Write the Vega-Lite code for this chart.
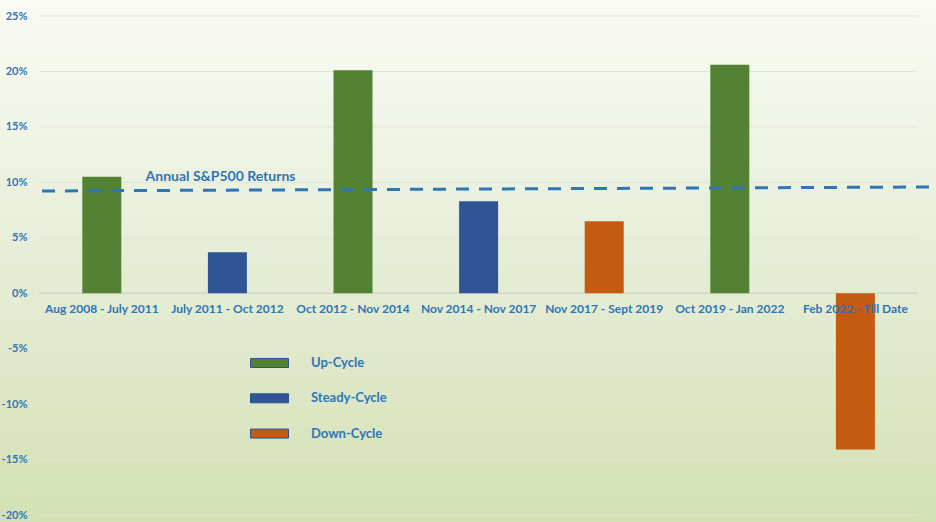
{
  "$schema": "https://vega.github.io/schema/vega-lite/v6.json",
  "width": 936,
  "height": 522,
  "autosize": "none",
  "padding": 0,
  "background": "#e8eed8",
  "config": {
    "view": {
      "stroke": null,
      "fill": {"gradient": "linear", "x1": 0, "y1": 0, "x2": 0, "y2": 1,
        "stops": [{"offset": 0, "color": "#f9fbf4"}, {"offset": 0.5, "color": "#e6edd6"}, {"offset": 1, "color": "#d4e1b5"}]}
    },
    "font": "Lato"
  },
  "datasets": {
    "bars": [
      {"period": "Aug 2008 - July 2011", "v": 10.5, "cycle": "Up-Cycle"},
      {"period": "July 2011 - Oct 2012", "v": 3.7, "cycle": "Steady-Cycle"},
      {"period": "Oct 2012 - Nov 2014", "v": 20.1, "cycle": "Up-Cycle"},
      {"period": "Nov 2014 - Nov 2017", "v": 8.3, "cycle": "Steady-Cycle"},
      {"period": "Nov 2017 - Sept 2019", "v": 6.5, "cycle": "Down-Cycle"},
      {"period": "Oct 2019 - Jan 2022", "v": 20.6, "cycle": "Up-Cycle"},
      {"period": "Feb 2022 - Till Date", "v": -14.1, "cycle": "Down-Cycle"}
    ],
    "grid": [
      {"v": -20, "u0": 0, "u1": 1}, {"v": -15, "u0": 0, "u1": 1}, {"v": -10, "u0": 0, "u1": 1},
      {"v": -5, "u0": 0, "u1": 1}, {"v": 0, "u0": 0, "u1": 1}, {"v": 5, "u0": 0, "u1": 1},
      {"v": 10, "u0": 0, "u1": 1}, {"v": 15, "u0": 0, "u1": 1}, {"v": 20, "u0": 0, "u1": 1},
      {"v": 25, "u0": 0, "u1": 1}
    ],
    "sp": [{"u0": 0.0034, "u1": 1.0137, "v": 9.22, "v2": 9.58}],
    "splabel": [{"u": 0.2065, "v": 10.5, "label": "Annual S&P500 Returns"}]
  },
  "resolve": {"scale": {"x": "independent"}},
  "layer": [
    {
      "data": {"name": "grid"},
      "mark": {"type": "rule"},
      "encoding": {
        "x": {"field": "u0", "type": "quantitative", "scale": {"domain": [-0.04437, 1.02048], "nice": false, "zero": false}, "axis": null},
        "x2": {"field": "u1"},
        "y": {"field": "v", "type": "quantitative", "title": null,
          "scale": {"domain": [-20.631, 26.443], "nice": false, "zero": false},
          "axis": {"values": [-20, -15, -10, -5, 0, 5, 10, 15, 20, 25], "labelExpr": "datum.value + '%'",
            "grid": false, "domain": false, "ticks": false, "tickSize": 0, "labelPadding": 0, "offset": -27, "title": null,
            "labelFont": "Lato", "labelFontSize": 11, "labelFontWeight": "bold", "labelColor": "#2e75b6"}},
        "stroke": {"condition": {"test": "datum.v === 0", "value": "#d3d6cc"}, "value": "#e1e5d8"},
        "strokeWidth": {"condition": {"test": "datum.v === 0", "value": 1.5}, "value": 1}
      }
    },
    {
      "data": {"name": "bars"},
      "mark": {"type": "bar"},
      "encoding": {
        "x": {"field": "period", "type": "nominal", "sort": null,
          "scale": {"type": "band", "paddingInner": 0.6895, "paddingOuter": 0.5709, "align": 0.574},
          "axis": null},
        "y": {"field": "v", "type": "quantitative", "title": null},
        "color": {"field": "cycle", "type": "nominal",
          "scale": {"domain": ["Up-Cycle", "Steady-Cycle", "Down-Cycle"], "range": ["#548235", "#2f5597", "#c55a11"]},
          "legend": {"orient": "none", "legendX": 250, "legendY": 353, "direction": "vertical", "title": null, "padding": 0,
            "symbolType": "M-1,-0.237L1,-0.237L1,0.237L-1,0.237Z", "symbolSize": 1444,
            "symbolStrokeColor": "#2f528f", "symbolStrokeWidth": 1, "symbolOpacity": 1,
            "clipHeight": 20, "rowPadding": 15.3, "labelOffset": 22,
            "labelFont": "Lato", "labelFontSize": 13, "labelFontWeight": "bold", "labelColor": "#2e75b6"}}
      }
    },
    {
      "data": {"name": "bars"},
      "mark": {"type": "text", "font": "Lato", "fontSize": 12, "fontWeight": "bold", "color": "#2e75b6", "align": "center", "baseline": "middle", "dy": 16},
      "encoding": {
        "x": {"field": "period", "type": "nominal", "sort": null,
          "scale": {"type": "band", "paddingInner": 0.6895, "paddingOuter": 0.5709, "align": 0.574},
          "axis": null, "bandPosition": 0.5},
        "y": {"datum": 0, "type": "quantitative"},
        "text": {"field": "period"}
      }
    },
    {
      "data": {"name": "sp"},
      "mark": {"type": "rule", "stroke": "#2e75b6", "strokeWidth": 3, "strokeDash": [13, 10]},
      "encoding": {
        "x": {"field": "u0", "type": "quantitative", "scale": {"domain": [-0.04437, 1.02048], "nice": false, "zero": false}, "axis": null},
        "x2": {"field": "u1"},
        "y": {"field": "v", "type": "quantitative", "title": null},
        "y2": {"field": "v2"}
      }
    },
    {
      "data": {"name": "splabel"},
      "mark": {"type": "text", "font": "Lato", "fontSize": 14, "fontWeight": "bold", "color": "#2e75b6", "align": "center", "baseline": "middle"},
      "encoding": {
        "x": {"field": "u", "type": "quantitative", "scale": {"domain": [-0.04437, 1.02048], "nice": false, "zero": false}, "axis": null},
        "y": {"field": "v", "type": "quantitative", "title": null},
        "text": {"field": "label"}
      }
    }
  ]
}
